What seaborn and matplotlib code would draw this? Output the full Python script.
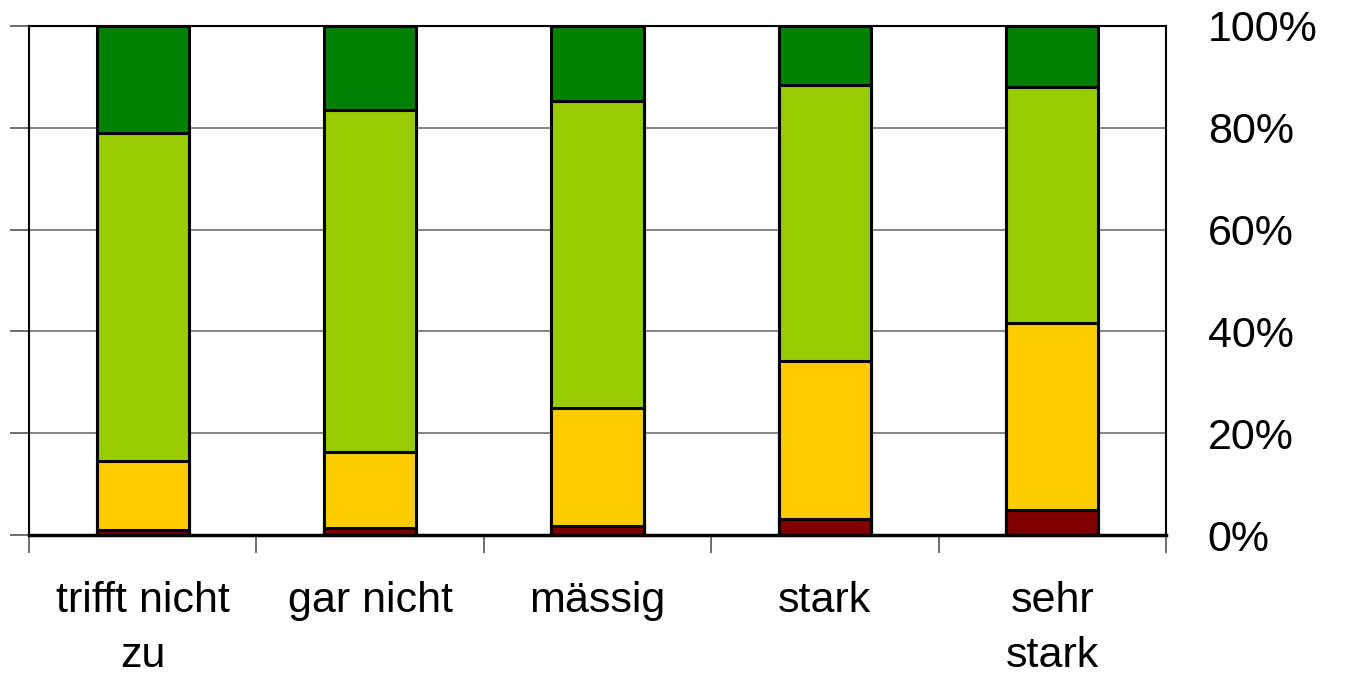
import matplotlib
matplotlib.use("Agg")
import matplotlib.pyplot as plt
import numpy as np
import pandas as pd
import seaborn as sns

categories = ["trifft nicht\nzu", "gar nicht", "mässig", "stark", "sehr\nstark"]
seg_red = [1.0, 1.3, 1.8, 3.1, 5.0]
seg_yellow = [13.6, 15.1, 23.2, 31.1, 36.6]
seg_lightgreen = [64.3, 67.1, 60.3, 54.3, 46.5]
seg_darkgreen = [21.1, 16.5, 14.7, 11.5, 11.9]
yticks = [0, 20, 40, 60, 80, 100]
ytick_labels = ["0%", "20%", "40%", "60%", "80%", "100%"]

colors = ["#800000", "#FFCC00", "#99CC00", "#008000"]

sns.set_theme(style="white")
plt.rcParams["font.family"] = ["Liberation Sans", "DejaVu Sans"]
plt.rcParams["text.color"] = "black"
plt.rcParams["xtick.color"] = "black"
plt.rcParams["ytick.color"] = "black"

segments = np.array([seg_red, seg_yellow, seg_lightgreen, seg_darkgreen])
cum = np.cumsum(segments, axis=0)

fig = plt.figure(figsize=(13.52, 6.78), dpi=100)
ax = fig.add_axes([0.0215, 0.2109, 0.8409, 0.7508])

# stacked bars: draw cumulative heights from the tallest layer down
for level in range(3, -1, -1):
    df = pd.DataFrame({"cat": categories, "val": cum[level]})
    sns.barplot(data=df, x="cat", y="val", color=colors[level], width=0.405,
                edgecolor="black", linewidth=2.2, saturation=1, ax=ax, zorder=3)

ax.set_xlim(-0.5, len(categories) - 0.5)
ax.set_ylim(0, 100)
ax.set_xlabel("")
ax.set_ylabel("")

for y in yticks[1:-1]:
    ax.axhline(y, color="#707070", linewidth=1.2, zorder=1)

ax.set_yticks(yticks)
ax.set_yticklabels(ytick_labels)
ax.tick_params(axis="y", left=True, right=False, labelleft=False, labelright=True,
               length=14, width=1.2, color="#555555", direction="out",
               labelsize=31, labelcolor="black", pad=16)

ax.set_xticks(range(len(categories)))
ax.set_xticklabels(categories, fontsize=31, linespacing=1.5, color="black")
ax.tick_params(axis="x", which="major", length=0, pad=33)
ax.set_xticks(np.arange(-0.5, len(categories), 1.0), minor=True)
ax.tick_params(axis="x", which="minor", bottom=True, length=13, width=1.2,
               color="#555555", direction="out")

for side in ["left", "right", "top"]:
    ax.spines[side].set_visible(True)
    ax.spines[side].set_color("black")
    ax.spines[side].set_linewidth(1.5)
ax.spines["bottom"].set_color("black")
ax.spines["bottom"].set_linewidth(2.5)
ax.spines["bottom"].set_zorder(5)

fig.savefig("out.png", dpi=100)
